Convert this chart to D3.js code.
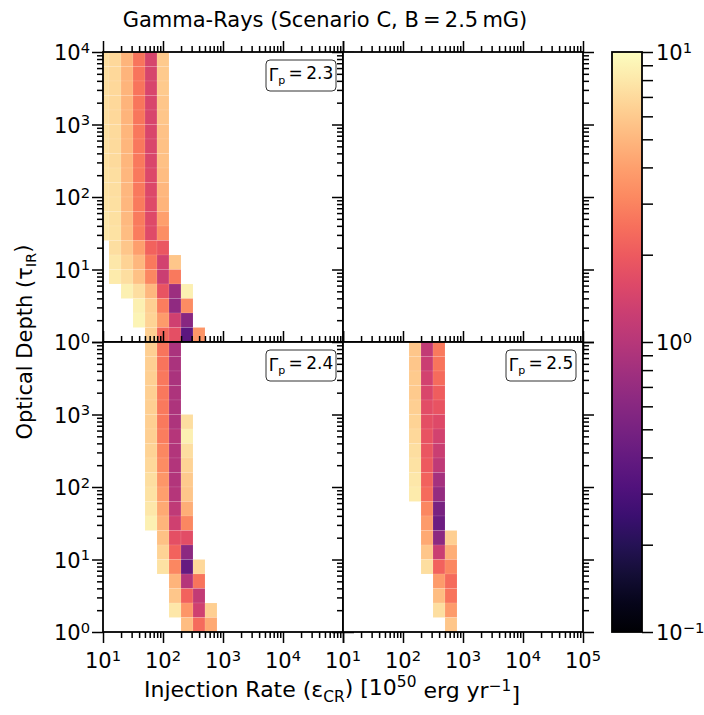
<!DOCTYPE html>
<html>
<head>
<meta charset="utf-8">
<script src="https://cdn.jsdelivr.net/npm/d3@7"></script>
<style>
body { margin: 0; background: #fff; }
text { font-family: "DejaVu Sans", sans-serif; fill: #000; }
</style>
</head>
<body>
<script>
// heatmap rows, from the top row (tau 10^3.8..10^4) down to the bottom one (10^0..10^0.2)
// each row: [log10 eps of the first cell centre, [cell values ...]], cells are 0.2 dex wide
var gamma23 = [
    [1.0, [7.24, 6.92, 4.79, 2.63, 1.45, 6.03]],
    [1.0, [7.24, 6.92, 4.79, 2.63, 1.45, 6.03]],
    [1.0, [7.24, 6.92, 4.79, 2.63, 1.48, 6.03]],
    [1.0, [7.24, 6.92, 4.79, 2.66, 1.48, 5.75]],
    [1.0, [7.24, 6.92, 4.79, 2.66, 1.48, 5.75]],
    [1.0, [7.41, 7.08, 4.90, 2.70, 1.51, 5.62]],
    [1.0, [7.41, 7.08, 4.90, 2.70, 1.51, 5.50]],
    [1.0, [7.41, 7.08, 4.90, 2.75, 1.51, 5.50]],
    [1.0, [7.59, 7.24, 5.01, 2.75, 1.55, 5.25]],
    [1.0, [7.59, 7.24, 5.01, 2.75, 1.55, 5.01]],
    [1.0, [7.76, 7.41, 5.01, 2.82, 1.58, 4.79]],
    [1.0, [7.94, 7.41, 5.13, 2.82, 1.58, 3.98]],
    [1.0, [7.94, 7.59, 5.25, 2.88, 1.62, 3.39]],
    [1.2, [7.24, 5.75, 3.98, 2.19, 1.91]],
    [1.2, [7.94, 6.61, 5.01, 2.75, 1.38, 5.75]],
    [1.2, [8.32, 7.24, 5.50, 3.16, 1.26, 2.75]],
    [1.4, [8.71, 7.24, 5.01, 1.82, 0.76, 8.71]],
    [1.6, [8.71, 6.31, 2.88, 0.66, 3.31]],
    [1.6, [9.12, 6.61, 3.80, 1.32, 0.60]],
    [1.8, [6.31, 2.29, 1.74, 0.36, 3.63]]
];
var gamma24 = [
    [1.8, [6.31, 2.63, 0.87]],
    [1.8, [6.31, 2.63, 0.87]],
    [1.8, [6.31, 2.70, 0.87]],
    [1.8, [6.31, 2.70, 0.91]],
    [1.8, [6.31, 2.75, 0.91]],
    [1.8, [6.31, 2.75, 0.91, 7.24]],
    [1.8, [6.31, 2.88, 1.00, 8.71]],
    [1.8, [6.61, 3.16, 0.95, 7.24]],
    [1.8, [6.92, 3.31, 0.95, 6.61]],
    [1.8, [7.24, 3.63, 0.95, 6.03]],
    [1.8, [7.59, 3.98, 1.00, 5.75]],
    [1.8, [7.94, 4.37, 1.10, 4.57]],
    [1.8, [8.71, 4.79, 1.32, 3.16]],
    [2.0, [5.50, 1.74, 1.66]],
    [2.0, [6.61, 2.19, 0.63]],
    [2.0, [7.59, 3.16, 0.40, 6.92]],
    [2.2, [4.79, 1.00, 2.63]],
    [2.2, [5.75, 2.19, 1.15]],
    [2.2, [7.94, 3.63, 1.32, 6.31]],
    [2.4, [5.25, 2.40, 4.37]]
];
var gamma25 = [
    [2.2, [5.75, 1.15, 2.75]],
    [2.2, [5.75, 1.26, 2.63]],
    [2.2, [6.03, 1.38, 2.40]],
    [2.2, [6.03, 1.51, 2.09]],
    [2.2, [6.31, 1.66, 1.82]],
    [2.2, [6.61, 1.74, 1.58]],
    [2.2, [6.92, 1.82, 1.38]],
    [2.2, [7.24, 1.91, 1.26]],
    [2.2, [7.59, 2.00, 1.10]],
    [2.2, [7.94, 2.19, 0.83]],
    [2.2, [8.32, 2.40, 0.69]],
    [2.4, [3.16, 0.50]],
    [2.4, [3.80, 0.44]],
    [2.4, [4.37, 0.63, 6.31]],
    [2.4, [5.75, 1.26, 4.57]],
    [2.4, [7.24, 2.19, 3.16]],
    [2.6, [3.80, 2.40]],
    [2.6, [5.25, 2.63]],
    [2.6, [7.24, 3.80]],
    [2.8, [5.75]]
];
var gammaLabels = ["2.3", null, "2.4", "2.5"];
var xDomain = [1e1, 1e5];
var yDomain = [1e0, 1e4];
var cDomain = [1e-1, 1e1];
var CELL = 0.2; // dex

var W = 704, H = 715;
var padLeft = 103, padTop = 52, panelW = 240, panelH = 290;
var TICK_FONT = 21;

var svg = d3.select("body").append("svg")
    .attr("width", W)
    .attr("height", H);

var color = d3.scaleSequentialLog(d3.interpolateMagma).domain(cDomain);

function minorTicks(lo, hi) {
    var out = [];
    for (var e = Math.floor(Math.log10(lo)); e < Math.log10(hi); e++) {
        for (var m = 2; m < 10; m++) {
            var v = m * Math.pow(10, e);
            if (v > lo && v < hi) out.push(v);
        }
    }
    return out;
}
function majorTicks(lo, hi) {
    var out = [];
    for (var e = Math.round(Math.log10(lo)); e <= Math.round(Math.log10(hi)); e++) out.push(Math.pow(10, e));
    return out;
}

// draws "10" with a superscript exponent
function powLabel(sel, exp) {
    sel.append("tspan").text("10");
    sel.append("tspan")
        .attr("dy", "-0.5em")
        .attr("font-size", "0.7em")
        .text(exp < 0 ? "\u2212" + (-exp) : exp);
}

function tickAxis(g, axisFn, scale, transform, majSize, minSize) {
    var dom = scale.domain();
    [[majorTicks(dom[0], dom[1]), majSize], [minorTicks(dom[0], dom[1]), minSize]].forEach(function (t) {
        g.append("g")
            .attr("transform", transform)
            .call(axisFn(scale).tickValues(t[0]).tickSize(t[1]).tickSizeOuter(0).tickFormat(""))
            .call(function (a) { a.select(".domain").remove(); })
            .selectAll("line")
            .attr("stroke", "#000")
            .attr("stroke-width", 1.5);
    });
}

var panels = [
    { col: 0, row: 0, data: gamma23, label: gammaLabels[0] },
    { col: 1, row: 0, data: [], label: gammaLabels[1] },
    { col: 0, row: 1, data: gamma24, label: gammaLabels[2] },
    { col: 1, row: 1, data: gamma25, label: gammaLabels[3] }
];

panels.forEach(function (p, idx) {
    var x0 = padLeft + p.col * panelW, y0 = padTop + p.row * panelH;
    var x = d3.scaleLog().domain(xDomain).range([x0, x0 + panelW]);
    var y = d3.scaleLog().domain(yDomain).range([y0 + panelH, y0]);
    var g = svg.append("g").attr("class", "panel");

    g.append("rect")
        .attr("x", x0).attr("y", y0)
        .attr("width", panelW).attr("height", panelH)
        .attr("fill", "#fff");

    svg.append("defs").append("clipPath")
        .attr("id", "clip" + idx)
        .append("rect")
        .attr("x", x0).attr("y", y0)
        .attr("width", panelW).attr("height", panelH);

    var cells = [];
    p.data.forEach(function (row, r) {
        var tTop = 4 - CELL * r;
        row[1].forEach(function (v, i) {
            var c = row[0] + CELL * i;
            cells.push({ e0: c - CELL / 2, e1: c + CELL / 2, t0: tTop - CELL, t1: tTop, v: v });
        });
    });

    g.append("g")
        .attr("clip-path", "url(#clip" + idx + ")")
        .selectAll("rect")
        .data(cells)
        .enter().append("rect")
        .attr("x", function (d) { return x(Math.pow(10, d.e0)); })
        .attr("y", function (d) { return y(Math.pow(10, d.t1)); })
        .attr("width", function (d) { return x(Math.pow(10, d.e1)) - x(Math.pow(10, d.e0)); })
        .attr("height", function (d) { return y(Math.pow(10, d.t0)) - y(Math.pow(10, d.t1)); })
        .attr("fill", function (d) { return color(d.v); })
        .attr("stroke", "rgba(255,255,255,0.2)")
        .attr("stroke-width", 0.5);

    g.append("rect")
        .attr("x", x0).attr("y", y0)
        .attr("width", panelW).attr("height", panelH)
        .attr("fill", "none")
        .attr("stroke", "#000")
        .attr("stroke-width", 1.8);

    tickAxis(g, d3.axisLeft, y, "translate(" + x0 + ",0)", 11, 6);
    tickAxis(g, d3.axisRight, y, "translate(" + (x0 + panelW) + ",0)", 11, 6);
    tickAxis(g, d3.axisTop, x, "translate(0," + y0 + ")", 11, 6);
    tickAxis(g, d3.axisBottom, x, "translate(0," + (y0 + panelH) + ")", 11, 6);

    // tick labels on the outer edges only
    if (p.col === 0) {
        var yl = majorTicks(yDomain[0], yDomain[1]).filter(function (v) { return p.row === 0 || v < yDomain[1]; });
        g.selectAll(".ylab")
            .data(yl)
            .enter().append("text")
            .attr("class", "ylab")
            .attr("x", x0 - 13)
            .attr("y", function (d) { return y(d) + 8; })
            .attr("text-anchor", "end")
            .attr("font-size", TICK_FONT)
            .each(function (d) { powLabel(d3.select(this), Math.round(Math.log10(d))); });
    }
    if (p.row === 1) {
        var xl = majorTicks(xDomain[0], xDomain[1]).filter(function (v) { return p.col === 1 || v < xDomain[1]; });
        g.selectAll(".xlab")
            .data(xl)
            .enter().append("text")
            .attr("class", "xlab")
            .attr("x", function (d) { return x(d); })
            .attr("y", y0 + panelH + 36)
            .attr("text-anchor", "middle")
            .attr("font-size", TICK_FONT)
            .each(function (d) { powLabel(d3.select(this), Math.round(Math.log10(d))); });
    }

    if (p.label) {
        var bw = 70, bh = 31;
        var bx = x0 + panelW - 7 - bw, by = y0 + 8;
        g.append("rect")
            .attr("x", bx).attr("y", by)
            .attr("width", bw).attr("height", bh)
            .attr("rx", 4)
            .attr("fill", "#fff")
            .attr("stroke", "#333")
            .attr("stroke-width", 1);
        var t = g.append("text")
            .attr("x", bx + bw / 2)
            .attr("y", by + 21)
            .attr("text-anchor", "middle")
            .attr("font-size", 17);
        t.append("tspan").text("\u0393");
        t.append("tspan").attr("dy", "0.3em").attr("font-size", "0.65em").text("p");
        t.append("tspan").attr("dy", "-0.3em").text("\u2009=\u2009" + p.label);
    }
});

// colorbar
var cbX = 612, cbW = 30, cbTop = padTop, cbBottom = padTop + 2 * panelH;
var cScale = d3.scaleLog().domain(cDomain).range([cbBottom, cbTop]);
var grad = svg.append("defs").append("linearGradient")
    .attr("id", "cbGrad")
    .attr("x1", 0).attr("y1", 1).attr("x2", 0).attr("y2", 0);
grad.selectAll("stop")
    .data(d3.range(0, 1.0001, 0.05))
    .enter().append("stop")
    .attr("offset", function (d) { return d; })
    .attr("stop-color", function (d) { return d3.interpolateMagma(d); });
svg.append("rect")
    .attr("x", cbX).attr("y", cbTop)
    .attr("width", cbW).attr("height", cbBottom - cbTop)
    .attr("fill", "url(#cbGrad)")
    .attr("stroke", "#000")
    .attr("stroke-width", 1.8);
var cb = svg.append("g");
tickAxis(cb, d3.axisRight, cScale, "translate(" + (cbX + cbW) + ",0)", 11, 11);
cb.selectAll(".clab")
    .data(majorTicks(cDomain[0], cDomain[1]))
    .enter().append("text")
    .attr("class", "clab")
    .attr("x", cbX + cbW + 14)
    .attr("y", function (d) { return cScale(d) + 8; })
    .attr("font-size", TICK_FONT)
    .each(function (d) { powLabel(d3.select(this), Math.round(Math.log10(d))); });

// title and axis labels
svg.append("text")
    .attr("x", 325).attr("y", 27)
    .attr("text-anchor", "middle")
    .attr("font-size", 21)
    .text("Gamma-Rays (Scenario C, B\u2009=\u20092.5\u2009mG)");

var xlab = svg.append("text")
    .attr("x", 332).attr("y", 697)
    .attr("text-anchor", "middle")
    .attr("font-size", 22);
xlab.append("tspan").text("Injection Rate (\u03b5");
xlab.append("tspan").attr("dy", "0.3em").attr("font-size", "0.7em").text("CR");
xlab.append("tspan").attr("dy", "-0.3em").text(") [10");
xlab.append("tspan").attr("dy", "-0.5em").attr("font-size", "0.7em").text("50");
xlab.append("tspan").attr("dy", "0.5em").text(" erg yr");
xlab.append("tspan").attr("dy", "-0.5em").attr("font-size", "0.7em").text("\u22121");
xlab.append("tspan").attr("dy", "0.5em").text("]");

var ylab = svg.append("text")
    .attr("transform", "translate(32," + (padTop + panelH) + ") rotate(-90)")
    .attr("text-anchor", "middle")
    .attr("font-size", 21);
ylab.append("tspan").text("Optical Depth (\u03c4");
ylab.append("tspan").attr("dy", "0.3em").attr("font-size", "0.7em").text("IR");
ylab.append("tspan").attr("dy", "-0.3em").text(")");
</script>
</body>
</html>
